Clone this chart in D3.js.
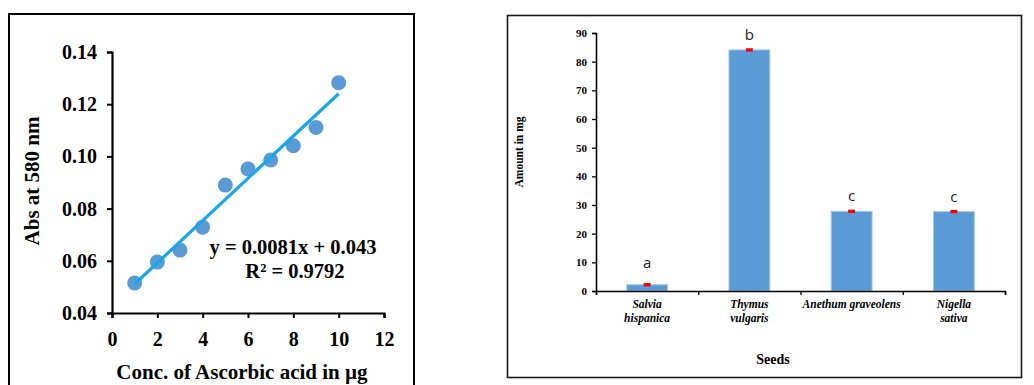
<!DOCTYPE html>
<html><head><meta charset="utf-8">
<script src="https://cdn.jsdelivr.net/npm/d3@7"></script>
<style>html,body{margin:0;padding:0;background:#fff;}svg{display:block;}</style>
</head><body>
<svg id="c" width="1034" height="385"></svg>
<script>
// ---- Left chart data ----
const concX = [1,2,3,4,5,6,7,8,9,10];
const absY = [0.0515,0.0595,0.0641,0.0729,0.0890,0.0952,0.0986,0.1041,0.1111,0.1282];
const slope = 0.0081, intercept = 0.043;
const eqText = "y = 0.0081x + 0.043";
const r2Text = "R² = 0.9792";
const leftXTicks = [0,2,4,6,8,10,12];
const leftYTicks = [0.04,0.06,0.08,0.10,0.12,0.14];
// ---- Right chart data ----
const seeds = ["Salvia hispanica","Thymus vulgaris","Anethum graveolens","Nigella sativa"];
const seedLines = [["Salvia","hispanica"],["Thymus","vulgaris"],["Anethum graveolens"],["Nigella","sativa"]];
const amounts = [2.2,84.1,27.8,27.7];
const errors = [0.3,0.3,0.3,0.3];
const letters = ["a","b","c","c"];
const rightYTicks = [0,10,20,30,40,50,60,70,80,90];

const svg = d3.select("#c");
const serif = "'Liberation Serif','Times New Roman',serif";

// ================= LEFT =================
svg.append("rect").attr("x",9).attr("y",14).attr("width",405).attr("height",400)
  .attr("fill","none").attr("stroke","#000").attr("stroke-width",2);
const L = {l:112,r:384,t:52,b:313};
const xL = d3.scaleLinear().domain([0,12]).range([L.l,L.r]);
const yL = d3.scaleLinear().domain([0.04,0.14]).range([L.b,L.t]);
const gL = svg.append("g");
const axB = gL.append("g").attr("transform",`translate(0,${L.b})`)
  .call(d3.axisBottom(xL).tickValues(leftXTicks).tickSize(5).tickPadding(14).tickFormat(d3.format("d")));
const axLft = gL.append("g").attr("transform",`translate(${L.l},0)`)
  .call(d3.axisLeft(yL).tickValues(leftYTicks).tickSize(5).tickPadding(10).tickFormat(d3.format(".2f")));
[axB,axLft].forEach(a=>{
  a.attr("font-family",serif);
  a.select(".domain").attr("stroke","#000").attr("stroke-width",2.2);
  a.selectAll(".tick line").attr("stroke","#000").attr("stroke-width",2);
  a.selectAll("text").attr("font-family",serif).attr("font-weight","bold").attr("font-size",20).attr("fill","#000");
});
// points
gL.selectAll("circle.pt").data(concX).enter().append("circle")
  .attr("cx",(d)=>xL(d)).attr("cy",(d,i)=>yL(absY[i])).attr("r",7.5).attr("fill","#5b9bd5");
// trend line
gL.append("line").attr("x1",xL(concX[0])).attr("y1",yL(slope*concX[0]+intercept))
  .attr("x2",xL(concX[concX.length-1])).attr("y2",yL(slope*concX[concX.length-1]+intercept))
  .attr("stroke","#1ba6e6").attr("stroke-width",3.2);
gL.append("text").attr("x",293).attr("y",254).attr("text-anchor","middle")
  .attr("font-family",serif).attr("font-weight","bold").attr("font-size",20.5).text(eqText);
gL.append("text").attr("x",295).attr("y",278).attr("text-anchor","middle")
  .attr("font-family",serif).attr("font-weight","bold").attr("font-size",20.5).text(r2Text);
gL.append("text").attr("transform","translate(39,181) rotate(-90)").attr("text-anchor","middle")
  .attr("font-family",serif).attr("font-weight","bold").attr("font-size",21).text("Abs at 580 nm");
gL.append("text").attr("x",242).attr("y",379).attr("text-anchor","middle")
  .attr("font-family",serif).attr("font-weight","bold").attr("font-size",21).text("Conc. of Ascorbic acid in µg");

// ================= RIGHT =================
svg.append("rect").attr("x",507.5).attr("y",15.5).attr("width",514).attr("height",362)
  .attr("fill","none").attr("stroke","#1a1a1a").attr("stroke-width",1.6);
const R = {l:596,r:1005,t:33,b:291};
const xR = d3.scaleBand().domain(seeds).range([R.l,R.r]).paddingInner(0.6).paddingOuter(0.3);
const xEdge = d3.scaleLinear().domain([0,seeds.length]).range([R.l,R.r]);
const yR = d3.scaleLinear().domain([0,90]).range([R.b,R.t]);
const gR = svg.append("g");
// bars
gR.selectAll("rect.bar").data(seeds).enter().append("rect")
  .attr("x",d=>xR(d)).attr("width",xR.bandwidth())
  .attr("y",(d,i)=>yR(amounts[i])).attr("height",(d,i)=>R.b-yR(amounts[i]))
  .attr("fill","#5b9bd5").attr("stroke","#a8c9ec").attr("stroke-width",1);
// error bars and letters
seeds.forEach((s,i)=>{
  const cx = xR(s)+xR.bandwidth()/2;
  gR.append("rect").attr("x",cx-3.5).attr("width",7)
    .attr("y",yR(amounts[i]+errors[i])-0.8).attr("height",Math.max(3,yR(amounts[i]-errors[i])-yR(amounts[i]+errors[i])+1.6))
    .attr("fill","#ff0000");
  gR.append("text").attr("x",cx).attr("y",Math.min(yR(amounts[i])-10, R.b-23)).attr("text-anchor","middle")
    .attr("font-family","'Open Sans','Liberation Sans',sans-serif").attr("font-size",15).attr("fill","#222").text(letters[i]);
});
// axes
const ayR = gR.append("g").attr("transform",`translate(${R.l},0)`)
  .call(d3.axisLeft(yR).tickValues(rightYTicks).tickSize(4).tickPadding(5));
ayR.select(".domain").attr("stroke","#000").attr("stroke-width",1.6);
ayR.selectAll(".tick line").attr("stroke","#000").attr("stroke-width",1.3);
ayR.selectAll("text").attr("font-family",serif).attr("font-weight","bold").attr("font-size",11).attr("fill","#000");
const axR = gR.append("g").attr("transform",`translate(0,${R.b})`)
  .call(d3.axisBottom(xEdge).tickValues(d3.range(seeds.length+1)).tickSize(4).tickFormat(""));
axR.select(".domain").attr("stroke","#000").attr("stroke-width",1.6);
axR.selectAll(".tick line").attr("stroke","#000").attr("stroke-width",1.3);
// category labels
seeds.forEach((s,i)=>{
  const cx = xEdge(i+0.5);
  const t = gR.append("text").attr("text-anchor","middle").attr("font-family",serif)
    .attr("font-weight","bold").attr("font-style","italic").attr("font-size",11.5).attr("fill","#000");
  seedLines[i].forEach((ln,j)=>{
    t.append("tspan").attr("x",cx).attr("y",308+j*14).text(ln);
  });
});
gR.append("text").attr("transform","translate(523,152) rotate(-90)").attr("text-anchor","middle")
  .attr("font-family",serif).attr("font-weight","bold").attr("font-size",11.5).text("Amount in mg");
gR.append("text").attr("x",773).attr("y",364).attr("text-anchor","middle")
  .attr("font-family",serif).attr("font-weight","bold").attr("font-size",14).text("Seeds");
</script>
</body></html>
